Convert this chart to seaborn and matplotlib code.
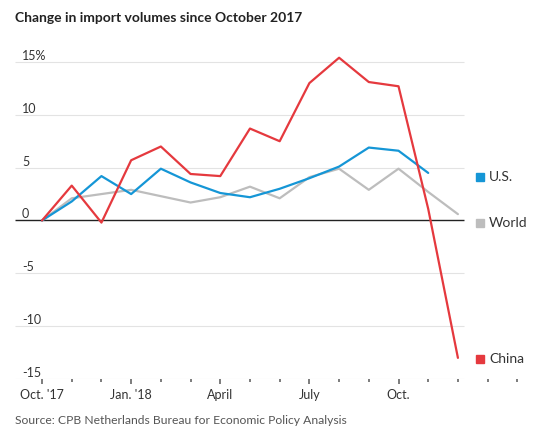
import pandas as pd
import seaborn as sns
from matplotlib import pyplot as plt

# monthly change in import volumes, Oct 2017 = 0
months = ["2017-10", "2017-11", "2017-12", "2018-01", "2018-02", "2018-03",
          "2018-04", "2018-05", "2018-06", "2018-07", "2018-08", "2018-09",
          "2018-10", "2018-11", "2018-12"]
china = [0, 3.3, -0.2, 5.7, 7.0, 4.4, 4.2, 8.7, 7.5, 13.0, 15.4, 13.1, 12.7, 1.1, -13.0]
us = [0, 1.8, 4.2, 2.5, 4.9, 3.6, 2.6, 2.2, 3.0, 4.0, 5.1, 6.9, 6.6, 4.5, None]
world = [0, 2.1, 2.5, 2.9, 2.3, 1.7, 2.2, 3.2, 2.1, 4.1, 4.9, 2.9, 4.9, 2.7, 0.6]

series_names = ["World", "U.S.", "China"]
colors = {"World": "#bdbdbd", "U.S.": "#1596d6", "China": "#e5393e"}

y_ticks = [15, 10, 5, 0, -5, -10, -15]
y_labels = ["15%", "10", "5", "0", "-5", "-10", "-15"]
x_tick_pos = [0, 3, 6, 9, 12]
x_tick_labels = ["Oct. '17", "Jan. '18", "April", "July", "Oct."]
month_ticks = list(range(0, 17))   # tick marks run on to Feb 2019

# where the end labels sit
label_y = {"U.S.": 4.1, "World": -0.2, "China": -13.1}


def main():
    rows = []
    for name, vals in zip(["China", "U.S.", "World"], [china, us, world]):
        for i, v in enumerate(vals):
            if v is not None:
                rows.append({"idx": i, "month": months[i], "series": name, "value": v})
    df = pd.DataFrame(rows)

    sns.set_style("ticks")
    plt.rcParams["font.family"] = ["Lato", "DejaVu Sans"]

    fig = plt.figure(figsize=(5.4, 4.37), dpi=100)
    ax = fig.add_axes([15 / 540, 0.1327, 505 / 540, 0.7497])

    n = len(months)
    x_left, x_grid_right = -0.91, n - 1 + 0.2
    # gridlines, the zero line is dark
    for yv in y_ticks:
        ax.hlines(yv, x_left, x_grid_right,
                  color="#222222" if yv == 0 else "#e3e3e3",
                  lw=1.0 if yv == 0 else 0.8, zorder=1)

    sns.lineplot(data=df, x="idx", y="value", hue="series", hue_order=series_names,
                 palette=colors, lw=1.6, legend=False, ax=ax, zorder=3)

    ax.set_xlim(x_left, 16.09)
    ax.set_ylim(-15, 16)
    ax.set_xlabel("")
    ax.set_ylabel("")
    for s in ax.spines.values():
        s.set_visible(False)

    ax.set_yticks(y_ticks)
    ax.set_yticklabels(y_labels)
    ax.tick_params(axis="y", length=0, pad=-5, labelsize=9, labelcolor="#333333")
    for lab in ax.get_yticklabels():
        lab.set_horizontalalignment("left")
        lab.set_verticalalignment("bottom")

    ax.set_xticks(x_tick_pos)
    ax.set_xticklabels(x_tick_labels)
    ax.tick_params(axis="x", length=0, labelsize=9, labelcolor="#333333", pad=7)

    # month tick marks drawn below the bottom gridline, longer at labelled months
    xtrans = ax.get_xaxis_transform()
    minor = [m for m in month_ticks if m not in x_tick_pos]
    ax.vlines(minor, -0.010, 0, transform=xtrans, color="#666666", lw=1.2,
              clip_on=False)
    ax.vlines(x_tick_pos, -0.016, 0, transform=xtrans, color="#666666", lw=1.2,
              clip_on=False)

    # end-of-line labels
    for name in ["U.S.", "World", "China"]:
        ax.plot([14.75], [label_y[name]], marker="s", ms=6, color=colors[name],
                clip_on=False, lw=0)
        ax.text(15.05, label_y[name], name, fontsize=10, color="#333333",
                va="center", ha="left")

    fig.text(15 / 540, 1 - 18 / 437, "Change in import volumes since October 2017",
             fontsize=10, fontweight="bold", color="#222222", va="center")
    fig.text(15 / 540, 1 - 421 / 437,
             "Source: CPB Netherlands Bureau for Economic Policy Analysis",
             fontsize=8.7, color="#555555", va="center")

    fig.savefig("out.png", dpi=100)


main()
